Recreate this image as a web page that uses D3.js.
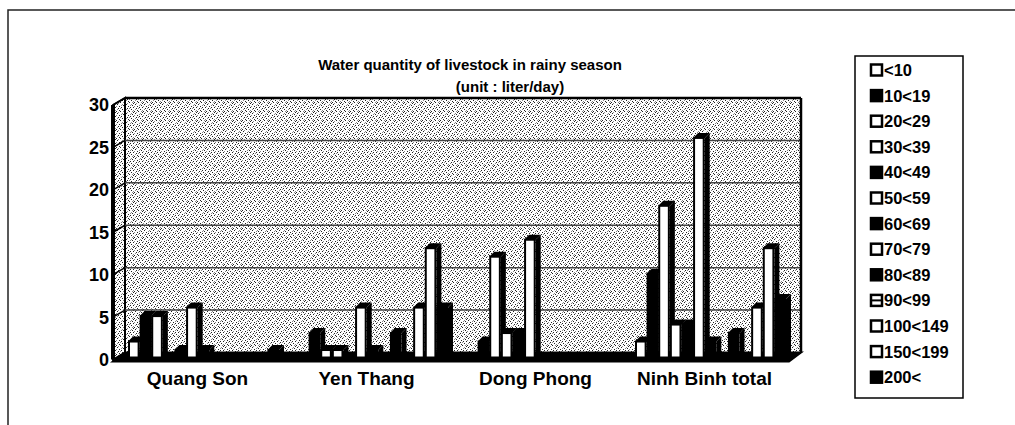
<!DOCTYPE html>
<html>
<head>
<meta charset="utf-8">
<script src="https://cdn.jsdelivr.net/npm/d3@7"></script>
<style>
  html, body { margin: 0; padding: 0; background: #fff; }
  svg { display: block; font-family: "Liberation Sans", Arial, sans-serif; }
</style>
</head>
<body>
<div id="chart"></div>
<script>
// categories and series (livestock count per water quantity class)
const categories = ["Quang Son", "Yen Thang", "Dong Phong", "Ninh Binh total"];
const seriesNames = ["<10", "10<19", "20<29", "30<39", "40<49", "50<59", "60<69",
                     "70<79", "80<89", "90<99", "100<149", "150<199", "200<"];
const quangSon      = [2, 5, 5, 0, 1, 6, 1, 0, 0, 0, 0, 0, 1];
const yenThang      = [0, 3, 1, 1, 0, 6, 1, 0, 3, 0, 6, 13, 6];
const dongPhong     = [0, 2, 12, 3, 3, 14, 0, 0, 0, 0, 0, 0, 0];
const ninhBinhTotal = [2, 10, 18, 4, 4, 26, 2, 0, 3, 0, 6, 13, 7];
const yTicks = [0, 5, 10, 15, 20, 25, 30];

const titleLines = ["Water quantity of livestock in rainy season", "(unit : liter/day)"];

// fill style of each series (white = hollow, black = solid, striped)
const seriesStyle = ["white", "black", "white", "white", "black", "white", "black",
                     "white", "black", "striped", "white", "white", "black"];

const valuesByCategory = [quangSon, yenThang, dongPhong, ninhBinhTotal];

const width = 1015, height = 425;
const svg = d3.select("#chart").append("svg")
    .attr("width", width)
    .attr("height", height);

// stipple texture for the walls
const defs = svg.append("defs");
const pat = defs.append("pattern")
    .attr("id", "stipple")
    .attr("patternUnits", "userSpaceOnUse")
    .attr("width", 9).attr("height", 9);
pat.append("rect").attr("width", 9).attr("height", 9).attr("fill", "#fff");
[[1, 0], [5, 1], [3, 3], [8, 3], [0, 5], [6, 6], [2, 7], [4, 8], [7, 8], [7, 4], [2, 2]].forEach(p => {
    pat.append("rect").attr("x", p[0]).attr("y", p[1])
        .attr("width", 1).attr("height", 1).attr("fill", "#222");
});
[[3, 0], [7, 2], [1, 4], [5, 5], [8, 7], [0, 1], [4, 6], [6, 3]].forEach(p => {
    pat.append("rect").attr("x", p[0]).attr("y", p[1])
        .attr("width", 1).attr("height", 1).attr("fill", "#888");
});

// outer frame
svg.append("rect")
    .attr("x", 8).attr("y", 10)
    .attr("width", 1010).attr("height", 420)
    .attr("fill", "none")
    .attr("stroke", "#222")
    .attr("stroke-width", 1.5);

// title
svg.selectAll(".title")
    .data(titleLines)
    .enter().append("text")
    .attr("class", "title")
    .attr("x", (d, i) => i === 0 ? 470 : 510)
    .attr("y", (d, i) => 70 + i * 22)
    .attr("text-anchor", "middle")
    .style("font-size", "15px")
    .style("font-weight", "bold")
    .text(d => d);

// scales (front plane), depth offset for back wall
const x0 = 113, x1 = 789;
const DX = 12, DY = -7;
const yScale = d3.scaleLinear().domain([0, 30]).range([359.5, 105]);
const xScale = d3.scaleBand().domain(categories).range([x0, x1]);
const groupPad = 9;
const xInner = d3.scaleBand().domain(seriesNames)
    .range([groupPad, xScale.bandwidth() - groupPad]);

const yTop = yScale(30), yBot = yScale(0);

// back wall
svg.append("rect")
    .attr("x", x0 + DX).attr("y", yTop + DY)
    .attr("width", x1 - x0).attr("height", yBot - yTop)
    .attr("fill", "url(#stipple)");

// left wall
svg.append("polygon")
    .attr("points", [[x0, yBot], [x0 + DX, yBot + DY], [x0 + DX, yTop + DY], [x0, yTop]].join(" "))
    .attr("fill", "url(#stipple)")
    .attr("stroke", "#000")
    .attr("stroke-width", 2);
svg.append("line")
    .attr("x1", x0).attr("x2", x0)
    .attr("y1", yTop).attr("y2", yBot)
    .attr("stroke", "#000").attr("stroke-width", 4);

// gridlines on back wall and left wall
yTicks.forEach(v => {
    const yf = yScale(v);
    if (v > 0) {
        svg.append("line")
            .attr("x1", x0 + DX).attr("x2", x1 + DX)
            .attr("y1", yf + DY).attr("y2", yf + DY)
            .attr("stroke", v === 30 ? "#000" : "#444")
            .attr("stroke-width", v === 30 ? 2.5 : 1.5);
        svg.append("line")
            .attr("x1", x0).attr("x2", x0 + DX)
            .attr("y1", yf).attr("y2", yf + DY)
            .attr("stroke", "#000").attr("stroke-width", 1.5);
    }
});

// right edge of back wall
svg.append("line")
    .attr("x1", x1 + DX).attr("x2", x1 + DX)
    .attr("y1", yTop + DY).attr("y2", yBot + DY)
    .attr("stroke", "#000").attr("stroke-width", 2.5);

// floor
svg.append("polygon")
    .attr("points", [[x0, yBot + 2], [x1, yBot + 2], [x1 + DX, yBot + DY], [x0 + DX, yBot + DY]].join(" "))
    .attr("fill", "#000")
    .attr("stroke", "#000")
    .attr("stroke-width", 2);

// y axis labels
svg.selectAll(".ylab")
    .data(yTicks)
    .enter().append("text")
    .attr("class", "ylab")
    .attr("x", 109)
    .attr("y", d => yScale(d))
    .attr("dy", "0.36em")
    .attr("text-anchor", "end")
    .style("font-size", "18px")
    .style("font-weight", "bold")
    .text(d => d);

// 3D bars
const bdx = 5, bdy = -5;   // bar depth
const shiftX = 6;          // bars sit mid-depth
categories.forEach((cat, ci) => {
    const g = svg.append("g")
        .attr("transform", `translate(${xScale(cat) + shiftX},0)`);
    valuesByCategory[ci].forEach((v, si) => {
        if (v <= 0) return;
        const bx = xInner(seriesNames[si]);
        const bw = xInner.bandwidth();
        const yt = yScale(v) - 1, yb = yScale(0) - 2;
        // right side
        g.append("polygon")
            .attr("points", [[bx + bw, yt], [bx + bw + bdx, yt + bdy], [bx + bw + bdx, yb + bdy], [bx + bw, yb]].join(" "))
            .attr("fill", "#000");
        // top
        g.append("polygon")
            .attr("points", [[bx, yt], [bx + bdx, yt + bdy], [bx + bw + bdx, yt + bdy], [bx + bw, yt]].join(" "))
            .attr("fill", "#000");
        // front face
        const style = seriesStyle[si];
        g.append("rect")
            .attr("x", bx + 1).attr("y", yt)
            .attr("width", bw - 2).attr("height", yb - yt)
            .attr("fill", style === "black" ? "#000" : "#fff")
            .attr("stroke", "#000")
            .attr("stroke-width", 2);
    });
});

// category labels
svg.selectAll(".xlab")
    .data(categories)
    .enter().append("text")
    .attr("class", "xlab")
    .attr("x", d => xScale(d) + xScale.bandwidth() / 2)
    .attr("y", 385)
    .attr("text-anchor", "middle")
    .style("font-size", "19px")
    .style("font-weight", "bold")
    .text(d => d);

// legend
const legX = 855, legY0 = 70, legStep = 25.6;
svg.append("rect")
    .attr("x", legX).attr("y", 56)
    .attr("width", 108).attr("height", 342)
    .attr("fill", "#fff")
    .attr("stroke", "#000")
    .attr("stroke-width", 1.5);

const legItem = svg.selectAll(".leg")
    .data(seriesNames)
    .enter().append("g")
    .attr("class", "leg")
    .attr("transform", (d, i) => `translate(${legX + 16},${legY0 + i * legStep})`);

legItem.append("rect")
    .attr("x", 0).attr("y", -5.5)
    .attr("width", 11).attr("height", 11)
    .attr("fill", (d, i) => seriesStyle[i] === "black" ? "#000" : "#fff")
    .attr("stroke", "#000")
    .attr("stroke-width", 2.5);

legItem.filter((d, i) => seriesStyle[i] === "striped")
    .append("line")
    .attr("x1", 0).attr("x2", 11)
    .attr("y1", 0).attr("y2", 0)
    .attr("stroke", "#000").attr("stroke-width", 2);

legItem.append("text")
    .attr("x", 13)
    .attr("y", 0)
    .attr("dy", "0.36em")
    .style("font-size", "16.5px")
    .style("font-weight", "bold")
    .text(d => d);
</script>
</body>
</html>
